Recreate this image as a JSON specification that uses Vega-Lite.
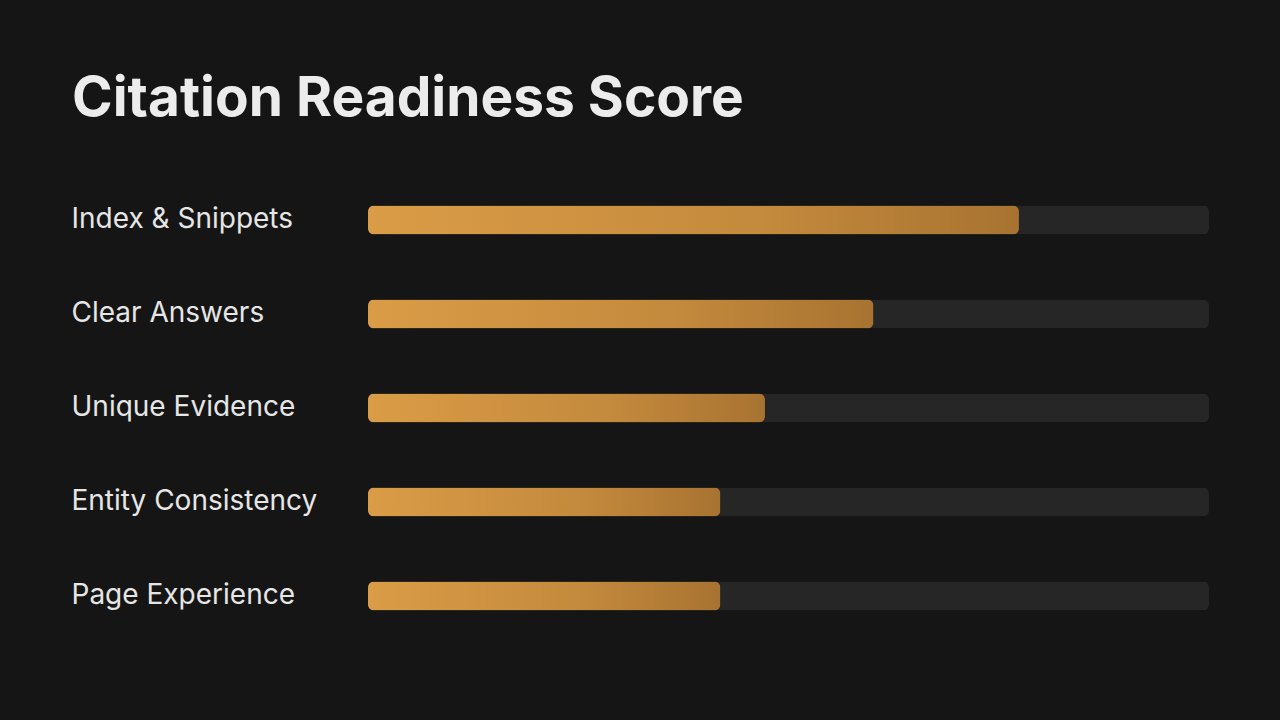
{
  "$schema": "https://vega.github.io/schema/vega-lite/v6.json",
  "autosize": "none",
  "width": 841,
  "height": 470,
  "padding": {"left": 368, "top": 173, "right": 71, "bottom": 77},
  "background": "#151515",
  "title": {
    "text": "Citation Readiness Score",
    "anchor": "start",
    "frame": "group",
    "dx": -296,
    "dy": 53,
    "offset": 55,
    "baseline": "alphabetic",
    "font": "Inter",
    "fontSize": 55,
    "fontWeight": 700,
    "color": "#ececec"
  },
  "data": {
    "values": [
      {"category": "Index & Snippets", "score": 77.4, "max": 100},
      {"category": "Clear Answers", "score": 60.1, "max": 100},
      {"category": "Unique Evidence", "score": 47.2, "max": 100},
      {"category": "Entity Consistency", "score": 41.9, "max": 100},
      {"category": "Page Experience", "score": 41.9, "max": 100}
    ]
  },
  "encoding": {
    "y": {
      "field": "category",
      "type": "nominal",
      "sort": null,
      "scale": {"padding": 0},
      "axis": {
        "title": null,
        "domain": false,
        "ticks": false,
        "grid": false,
        "labelAlign": "left",
        "labelBaseline": "middle",
        "labelPadding": 297,
        "labelFont": "Inter",
        "labelFontSize": 28,
        "labelColor": "#e6e6e6",
        "labelLimit": 0
      }
    }
  },
  "layer": [
    {
      "mark": {"type": "bar", "height": 29, "cornerRadius": 6, "color": "#262626"},
      "encoding": {
        "x": {"field": "max", "type": "quantitative", "scale": {"domain": [0, 100], "nice": false}, "axis": null}
      }
    },
    {
      "mark": {
        "type": "bar",
        "height": 29,
        "cornerRadius": 6,
        "color": {
          "gradient": "linear",
          "x1": 0, "y1": 0, "x2": 1, "y2": 0,
          "stops": [
            {"offset": 0, "color": "#da9c46"},
            {"offset": 0.6, "color": "#c48a3d"},
            {"offset": 1, "color": "#a87331"}
          ]
        }
      },
      "encoding": {
        "x": {"field": "score", "type": "quantitative", "scale": {"domain": [0, 100], "nice": false}, "axis": null}
      }
    }
  ],
  "config": {"view": {"stroke": null}}
}
